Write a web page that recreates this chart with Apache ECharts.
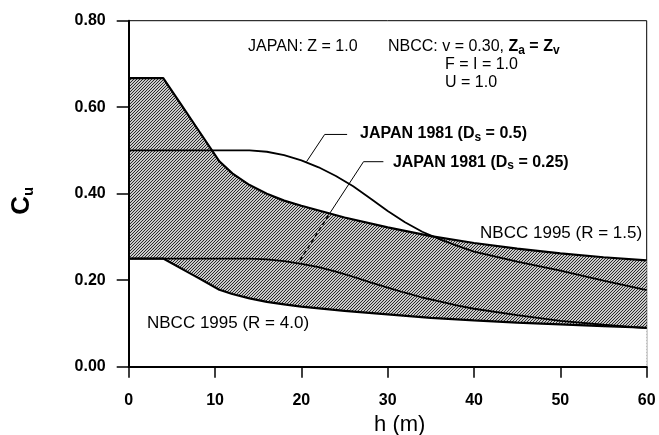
<!DOCTYPE html>
<html>
<head>
<meta charset="utf-8">
<script src="https://cdn.jsdelivr.net/npm/echarts@6/dist/echarts.min.js"></script>
<style>
html,body{margin:0;padding:0;background:#fff;}
#chart{width:659px;height:435px;}
</style>
</head>
<body>
<div id="chart"></div>
<script>
// ---- data ----
const hNBCC = [0, 4, 6, 8, 10.5, 12, 14, 16, 18, 20, 25, 30, 35, 40, 45, 50, 55, 60];
const nbccR15 = [0.667, 0.667, 0.608, 0.549, 0.475, 0.447, 0.420, 0.400, 0.384, 0.372, 0.345, 0.322, 0.302, 0.286, 0.273, 0.262, 0.253, 0.246];
const nbccR40 = [0.250, 0.250, 0.228, 0.206, 0.178, 0.168, 0.158, 0.150, 0.144, 0.139, 0.129, 0.121, 0.113, 0.107, 0.102, 0.098, 0.094, 0.090];
const hJapan = [0, 14, 16, 18, 20, 22, 24, 26, 28, 30, 32, 34, 36, 38, 40, 45, 50, 55, 60];
const japanDs05 = [0.500, 0.500, 0.497, 0.489, 0.477, 0.461, 0.441, 0.417, 0.389, 0.360, 0.334, 0.312, 0.295, 0.280, 0.266, 0.243, 0.222, 0.199, 0.177];
const japanDs025 = [0.250, 0.250, 0.248, 0.244, 0.238, 0.230, 0.220, 0.208, 0.195, 0.183, 0.171, 0.160, 0.151, 0.142, 0.134, 0.119, 0.106, 0.097, 0.089];
const xTicks = [0, 10, 20, 30, 40, 50, 60];
const yTicks = [0.00, 0.20, 0.40, 0.60, 0.80];

const FONT = '"Liberation Sans", Arial, Helvetica, sans-serif';

// fine hatch pattern
const pat = document.createElement('canvas');
pat.width = 3; pat.height = 3;
const pc = pat.getContext('2d');
pc.fillStyle = '#cacaca'; pc.fillRect(0, 0, 3, 3);
for (let i = 0; i < 3; i++) {
  pc.fillStyle = '#2a2a2a'; pc.fillRect(2 - i, i, 1, 1);
}

const zip = (xs, ys) => xs.map((x, i) => [x, ys[i]]);

const rich = {
  rg: {fontSize: 16, fontFamily: FONT, color: '#000', lineHeight: 20},
  bd: {fontSize: 16, fontFamily: FONT, color: '#000', fontWeight: 'bold', lineHeight: 20},
  sbd: {fontSize: 12, fontFamily: FONT, color: '#000', fontWeight: 'bold', lineHeight: 12, verticalAlign: 'bottom'},
  nb: {fontSize: 17, fontFamily: FONT, color: '#000', lineHeight: 20}
};

const chart = echarts.init(document.getElementById('chart'), null, {renderer: 'canvas'});
chart.setOption({
  animation: false,
  backgroundColor: '#fff',
  grid: {left: 128.7, right: 12.3, top: 20.7, bottom: 68.3, show: true, borderColor: '#000', borderWidth: 1,
    containLabel: false, outerBoundsMode: 'none'},
  xAxis: {
    type: 'value', min: 0, max: 60, interval: 10, z: 10,
    name: 'h (m)', nameLocation: 'middle', nameGap: 47,
    nameTextStyle: {fontSize: 22, fontFamily: FONT, color: '#000', padding: [0, 0, 0, 24]},
    axisLine: {lineStyle: {color: '#000', width: 2}},
    axisTick: {length: 11, lineStyle: {color: '#000', width: 1.5}},
    splitLine: {show: false},
    axisLabel: {margin: 26, fontSize: 16, fontWeight: 'bold', fontFamily: FONT, color: '#000',
      formatter: v => String(xTicks.find(t => t === v) ?? v)}
  },
  yAxis: {
    type: 'value', min: 0, max: 0.8, interval: 0.2, z: 10,
    name: '{c|C}{u|u}', nameLocation: 'middle', nameGap: 92, nameRotate: 90,
    nameTextStyle: {padding: [0, 14, 0, 0], rich: {
      c: {fontSize: 26, fontWeight: 'bold', fontFamily: FONT, color: '#000', lineHeight: 30},
      u: {fontSize: 15, fontWeight: 'bold', fontFamily: FONT, color: '#000', lineHeight: 14, verticalAlign: 'bottom'}
    }},
    axisLine: {show: true, lineStyle: {color: '#000', width: 2}},
    axisTick: {show: true, length: 12, lineStyle: {color: '#000', width: 1.5}},
    splitLine: {show: false},
    axisLabel: {margin: 23, fontSize: 16, fontWeight: 'bold', fontFamily: FONT, color: '#000',
      formatter: v => {const t = yTicks.find(y => Math.abs(y - v) < 1e-9); return (t ?? v).toFixed(2);}}
  },
  series: [
    // hatched band: pattern under the upper curve, white under the lower curve
    {type: 'line', data: zip(hNBCC, nbccR15), symbol: 'none', lineStyle: {opacity: 0}, silent: true, z: 1,
      areaStyle: {color: {image: pat, repetition: 'repeat'}, opacity: 1, origin: 'start'}},
    {type: 'line', data: zip(hNBCC, nbccR40), symbol: 'none', lineStyle: {opacity: 0}, silent: true, z: 2,
      areaStyle: {color: '#fff', opacity: 1, origin: 'start'}},
    {type: 'line', data: zip(hJapan, japanDs05), symbol: 'none', lineStyle: {color: '#000', width: 1.8}, z: 3},
    {type: 'line', data: zip(hJapan, japanDs025), symbol: 'none', lineStyle: {color: '#000', width: 1.8}, z: 3},
    {type: 'line', data: zip(hNBCC, nbccR15), symbol: 'none', lineStyle: {color: '#000', width: 2.2}, z: 4},
    {type: 'line', data: zip(hNBCC, nbccR40), symbol: 'none', lineStyle: {color: '#000', width: 2.2}, z: 4},
    // leader lines
    {type: 'line', data: [[20.6, 0.474], [22.7, 0.537], [25.3, 0.537]], symbol: 'none', lineStyle: {color: '#000', width: 1}, z: 5},
    {type: 'line', data: [[19.85, 0.246], [23.3, 0.355]], symbol: 'none', lineStyle: {color: '#000', width: 1.5, type: [4, 3]}, z: 5},
    {type: 'line', data: [[23.3, 0.355], [27.2, 0.474], [29.5, 0.474]], symbol: 'none', lineStyle: {color: '#000', width: 1}, z: 5},
    // text annotations
    {type: 'scatter', symbolSize: 0, silent: true, z: 6, itemStyle: {color: '#000'},
      label: {show: true, position: 'right', distance: 0, color: '#000', opacity: 1, textBorderWidth: 0,
        rich: rich, formatter: p => p.name},
      data: [
        {name: '{rg|JAPAN: Z = 1.0}', value: [13.82, 0.739]},
        {name: '{rg|NBCC: v = 0.30, }{bd|Z}{sbd|a}{bd| = Z}{sbd|v}', value: [30.03, 0.739]},
        {name: '{rg|F = I = 1.0}', value: [36.64, 0.698]},
        {name: '{rg|U = 1.0}', value: [36.64, 0.657]},
        {name: '{bd|JAPAN 1981 (D}{sbd|s}{bd| = 0.5)}', value: [26.8, 0.538]},
        {name: '{bd|JAPAN 1981 (D}{sbd|s}{bd| = 0.25)}', value: [30.6, 0.473]},
        {name: '{nb|NBCC 1995 (R = 1.5)}', value: [40.7, 0.309]},
        {name: '{nb|NBCC 1995 (R = 4.0)}', value: [2.12, 0.101]}
      ]}
  ]
});
</script>
</body>
</html>
